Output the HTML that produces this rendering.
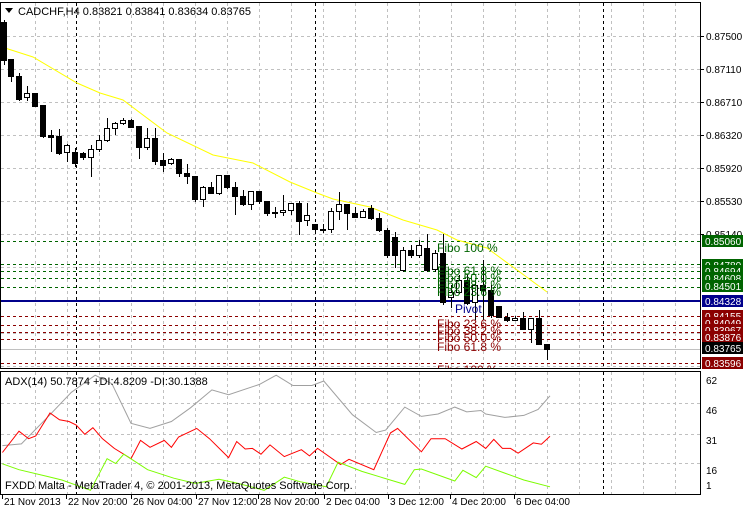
<!DOCTYPE html>
<html><head><meta charset="utf-8"><style>
body{margin:0;background:#fff;width:743px;height:509px;overflow:hidden}
svg{display:block;font-family:"Liberation Sans",sans-serif}
</style></head><body>
<svg id="s" width="743" height="509" xmlns="http://www.w3.org/2000/svg"></svg>
<script>
var o='<defs><clipPath id="cm"><rect x="0" y="2" width="701" height="367"/></clipPath></defs>';
for(var x=35;x<700;x+=32)o+='<line x1="'+(x+.5)+'" y1="3" x2="'+(x+.5)+'" y2="368" stroke="#c0c0c0" stroke-dasharray="3,3"/>';
for(var y=36;y<368;y+=33)o+='<line x1="1" y1="'+(y+.5)+'" x2="700" y2="'+(y+.5)+'" stroke="#c0c0c0" stroke-dasharray="3,3"/>';
for(var x=35;x<700;x+=32)o+='<line x1="'+(x+.5)+'" y1="372" x2="'+(x+.5)+'" y2="494" stroke="#c0c0c0" stroke-dasharray="3,3"/>';
[403,434,463].forEach(function(y){o+='<line x1="1" y1="'+(y+.5)+'" x2="700" y2="'+(y+.5)+'" stroke="#c0c0c0" stroke-dasharray="3,3"/>';});
[76,315,603].forEach(function(x){o+='<line x1="'+(x+.5)+'" y1="3" x2="'+(x+.5)+'" y2="368" stroke="#000" stroke-dasharray="3,3"/><line x1="'+(x+.5)+'" y1="372" x2="'+(x+.5)+'" y2="494" stroke="#000" stroke-dasharray="3,3"/>';});
[[241,'#006400'],[264,'#006400'],[271,'#006400'],[278,'#006400'],[287,'#006400'],[316,'#8b0000'],[325,'#8b0000'],[332,'#8b0000'],[339,'#8b0000'],[363,'#8b0000']].forEach(function(a){o+='<line x1="1" y1="'+(a[0]+.5)+'" x2="700" y2="'+(a[0]+.5)+'" stroke="'+a[1]+'" stroke-dasharray="3,3"/>';});
o+='<line x1="1" y1="349.5" x2="700" y2="349.5" stroke="#c0c0c0"/>';
o+='<line x1="1" y1="301" x2="700" y2="301" stroke="#00008b" stroke-width="2"/>';
o+='<polyline fill="none" stroke="#ffff00" points="5,48 33,57 77,83 100,93 123,100 167,133 213,155 253,163 290,182 317,193 333,199 370,207 403,220 437,230 457,240 487,248 547,292"/>';
var C=[[4,22,60,20,65],[11,59,76,59,82],[19,76,99,73,101],[27,97,93,86,101],[35,93,106,93,106],[43,105,136,105,138],[51,135,137,130,152],[59,136,153,129,155],[67,152,145,144,162],[75,152,163,148,167],[83,153,157,152,160],[91,157,149,145,177],[99,149,140,135,152],[107,140,128,118,142],[115,128,123,122,135],[123,123,120,118,125],[131,120,127,119,127],[139,126,147,126,159],[147,147,138,128,150],[155,138,161,128,165],[163,160,165,153,172],[171,163,159,158,165],[179,159,173,159,177],[187,173,176,164,184],[195,176,199,176,202],[203,199,187,186,207],[211,187,193,182,194],[219,193,175,175,195],[227,175,187,175,189],[235,187,196,182,215],[243,196,204,190,206],[251,204,191,191,210],[259,191,201,191,204],[267,201,213,201,216],[275,212,213,207,218],[283,212,210,195,216],[291,210,203,203,215],[299,203,221,201,235],[307,220,215,203,226],[315,224,229,224,232],[323,229,230,224,233],[331,229,211,208,233],[339,211,204,192,220],[347,204,213,204,230],[355,213,217,207,218],[363,217,211,209,218],[371,208,218,205,220],[379,218,230,213,232],[387,230,255,228,258],[395,237,255,232,268],[403,270,250,247,272],[411,250,255,245,258],[419,255,245,240,258],[427,248,270,234,272],[435,269,253,250,272],[443,253,302,234,305],[451,297,292,285,308],[459,292,280,275,294],[467,280,303,275,305],[475,302,285,280,320],[483,285,290,260,320],[491,290,315,285,318],[499,306,317,306,318],[507,317,320,313,322],[515,320,318,316,320],[523,318,329,312,330],[531,329,318,318,343],[539,318,344,310,345],[547,344,349,344,360]];
C.forEach(function(c){var x=c[0],t=Math.min(c[1],c[2]),b=Math.max(c[1],c[2]);var w=c[2]<c[1];
o+='<line x1="'+(x+.5)+'" y1="'+c[3]+'" x2="'+(x+.5)+'" y2="'+c[4]+'" stroke="#000"/>';
if(b-t<1)b=t+1;
o+='<rect x="'+(x-2.5)+'" y="'+(t+.5)+'" width="5" height="'+(b-t)+'" fill="'+(w?'#fff':'#000')+'" stroke="#000"/>';});
o+='<g clip-path="url(#cm)">';
function tx(x,y,t,c){o+='<text x="'+x+'" y="'+y+'" font-size="12" fill="'+c+'">'+t+'</text>';}
tx(437,252,'Fibo 100 %','#006400');tx(437,275,'Fibo 61.8 %','#006400');tx(437,282,'Fibo 50.0 %','#006400');tx(437,289,'Fibo 38.2 %','#006400');tx(437,296,'Fibo 23.6 %','#006400');
tx(455,313,'Pivot','#00008b');
tx(437,328,'Fibo 23.6 %','#8b0000');tx(437,335,'Fibo 38.2 %','#8b0000');tx(437,342,'Fibo 50.0 %','#8b0000');tx(437,351,'Fibo 61.8 %','#8b0000');tx(437,374,'Fibo 100 %','#8b0000');
o+='</g>';
function pl(p,c){var s=p.map(function(q){return (q[0]/2.1).toFixed(1)+','+(370+q[1]/2.91).toFixed(1)}).join(' ');o+='<polyline fill="none" stroke="'+c+'" points="'+s+'"/>';}
pl([[5,220],[45,215],[105,130],[150,65],[200,15],[235,40],[275,155],[315,170],[360,150],[400,110],[445,58],[480,72],[545,42],[580,15],[615,45],[655,45],[680,32],[740,130],[790,182],[810,175],[850,108],[885,135],[920,128],[955,108],[980,122],[1010,118],[1020,128],[1060,138],[1100,132],[1130,115],[1155,75]],'#a0a0a0');
pl([[5,240],[40,178],[60,200],[75,192],[105,125],[125,145],[145,150],[160,160],[178,187],[195,168],[215,200],[240,228],[275,258],[295,205],[315,225],[345,205],[360,225],[375,195],[413,170],[440,200],[480,255],[497,208],[515,230],[530,228],[548,245],[567,218],[597,252],[633,232],[650,250],[667,228],[715,275],[733,260],[785,290],[820,183],[835,170],[885,238],[905,200],[935,200],[970,230],[1000,208],[1020,228],[1037,202],[1055,228],[1072,228],[1088,242],[1120,212],[1137,216],[1155,193]],'#ff0000');
pl([[5,273],[40,290],[100,310],[130,320],[190,350],[225,258],[243,272],[260,245],[310,290],[365,315],[410,330],[460,318],[500,330],[555,350],[597,312],[630,325],[685,340],[710,268],[760,295],[800,312],[850,333],[870,290],[885,288],[955,323],[972,292],[1000,313],[1020,280],[1060,300],[1100,320],[1155,340]],'#7cfc00');
o+='<rect x="0.5" y="2.5" width="700" height="366" fill="none" stroke="#000"/>';
o+='<rect x="0.5" y="371.5" width="700" height="123" fill="none" stroke="#000"/>';
o+='<path d="M5,8 L13,8 L9,13 Z" fill="#000"/>';
o+='<text x="18" y="15" font-size="11" fill="#000">CADCHF,H4  0.83821 0.83841 0.83634 0.83765</text>';
o+='<text x="5" y="385" font-size="11" fill="#000">ADX(14) 50.7874 +DI:4.8209 -DI:30.1388</text>';
o+='<text x="5" y="489" font-size="11" fill="#000">FXDD Malta - MetaTrader 4, © 2001-2013, MetaQuotes Software Corp.</text>';
[['0.87500',36],['0.87110',69],['0.86710',102],['0.86320',135],['0.85920',168],['0.85530',201],['0.85140',234]].forEach(function(a){o+='<line x1="700" y1="'+(a[1]+.5)+'" x2="704" y2="'+(a[1]+.5)+'" stroke="#000"/><text x="706" y="'+(a[1]+4)+'" font-size="10">'+a[0]+'</text>';});
[['0.85060',241,'#006400'],['0.84780',265,'#006400'],['0.84694',271,'#006400'],['0.84608',278,'#006400'],['0.84501',286,'#006400'],['0.84328',301,'#00008b'],['0.84155',316,'#8b0000'],['0.84049',323,'#8b0000'],['0.83967',330,'#8b0000'],['0.83876',337,'#8b0000'],['0.83765',348,'#000'],['0.83596',363,'#8b0000']].forEach(function(a){o+='<rect x="702" y="'+(a[1]-6)+'" width="41" height="12" fill="'+a[2]+'"/><text x="705" y="'+(a[1]+4)+'" font-size="10" fill="#fff">'+a[0]+'</text>';});
[['62',380],['46',410],['31',440],['16',470],['1',485]].forEach(function(a){o+='<text x="706" y="'+(a[1]+4)+'" font-size="10">'+a[0]+'</text>';});
[['21 Nov 2013',2],['22 Nov 20:00',66],['26 Nov 04:00',131],['27 Nov 12:00',196],['28 Nov 20:00',258],['2 Dec 04:00',324],['3 Dec 12:00',388],['4 Dec 20:00',450],['6 Dec 04:00',514]].forEach(function(a){o+='<line x1="'+(a[1]+.5)+'" y1="495" x2="'+(a[1]+.5)+'" y2="499" stroke="#000"/><text x="'+(a[1]+2)+'" y="505" font-size="10">'+a[0]+'</text>';});
document.getElementById('s').innerHTML=o;
</script>
</body></html>
